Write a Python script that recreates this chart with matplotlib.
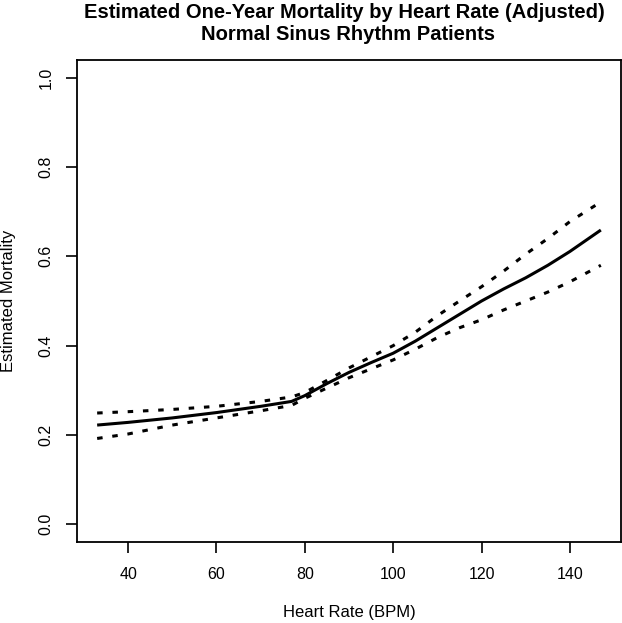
import numpy as np
import matplotlib
matplotlib.use("Agg")
import matplotlib.pyplot as plt

# heart rate (BPM) and estimated one-year mortality
heart_rate = [33, 40, 50, 60, 70, 77, 80, 85, 90, 95, 100, 105, 110, 115, 120, 125, 130, 135, 140, 147]
mortality = [0.222, 0.228, 0.238, 0.250, 0.264, 0.275, 0.288, 0.315, 0.340, 0.362, 0.383, 0.410,
             0.440, 0.470, 0.500, 0.527, 0.552, 0.580, 0.611, 0.659]
upper_ci = [0.249, 0.252, 0.257, 0.264, 0.275, 0.285, 0.295, 0.322, 0.350, 0.375, 0.400, 0.430,
            0.467, 0.500, 0.532, 0.567, 0.605, 0.640, 0.678, 0.722]
lower_ci = [0.192, 0.202, 0.222, 0.238, 0.254, 0.266, 0.282, 0.305, 0.328, 0.348, 0.368, 0.392,
            0.418, 0.440, 0.458, 0.480, 0.500, 0.520, 0.543, 0.580]

x_ticks = [40, 60, 80, 100, 120, 140]
y_ticks = [0.0, 0.2, 0.4, 0.6, 0.8, 1.0]

plt.rcParams['font.family'] = ['Liberation Sans', 'DejaVu Sans']

fig = plt.figure(figsize=(6.22, 6.23), dpi=100)
ax = fig.add_axes([77 / 622, 1 - 542 / 623, (621 - 77) / 622, (542 - 60) / 623])

ax.plot(heart_rate, mortality, color="black", linewidth=2.2, solid_capstyle="butt")
dots = (0, (1.8, 3.2))
ax.plot(heart_rate, upper_ci, color="black", linewidth=2.2, linestyle=dots, dash_capstyle="butt")
ax.plot(heart_rate, lower_ci, color="black", linewidth=2.2, linestyle=dots, dash_capstyle="butt")

# R style 4% padding
ax.set_xlim(28.44, 151.56)
ax.set_ylim(-0.04, 1.04)
ax.set_xticks(x_ticks)
ax.set_xticklabels([str(t) for t in x_ticks])
ax.set_yticks(y_ticks)
ax.set_yticklabels(["%.1f" % t for t in y_ticks], rotation=90, va="center")
ax.tick_params(direction="out", length=8, width=1.2, labelsize=11.5, pad=10, colors="black")
ax.tick_params(axis="y", pad=9)
for sp in ax.spines.values():
    sp.set_linewidth(1.3)

fig.text(0.5 * (77 + 621) / 622, 1 - 612 / 623, "Heart Rate (BPM)",
         ha="center", va="center", fontsize=12)
fig.text(9 / 622, 1 - 301 / 623, "Estimated Mortality",
         ha="center", va="center", fontsize=12, rotation=90)

fig.text(344 / 622, 1 - 13 / 623, "Estimated One-Year Mortality by Heart Rate (Adjusted)",
         ha="center", va="center", fontsize=14.5, fontweight="bold")
fig.text(348 / 622, 1 - 35 / 623, "Normal Sinus Rhythm Patients",
         ha="center", va="center", fontsize=14.5, fontweight="bold")

fig.savefig("out.png", dpi=100)
